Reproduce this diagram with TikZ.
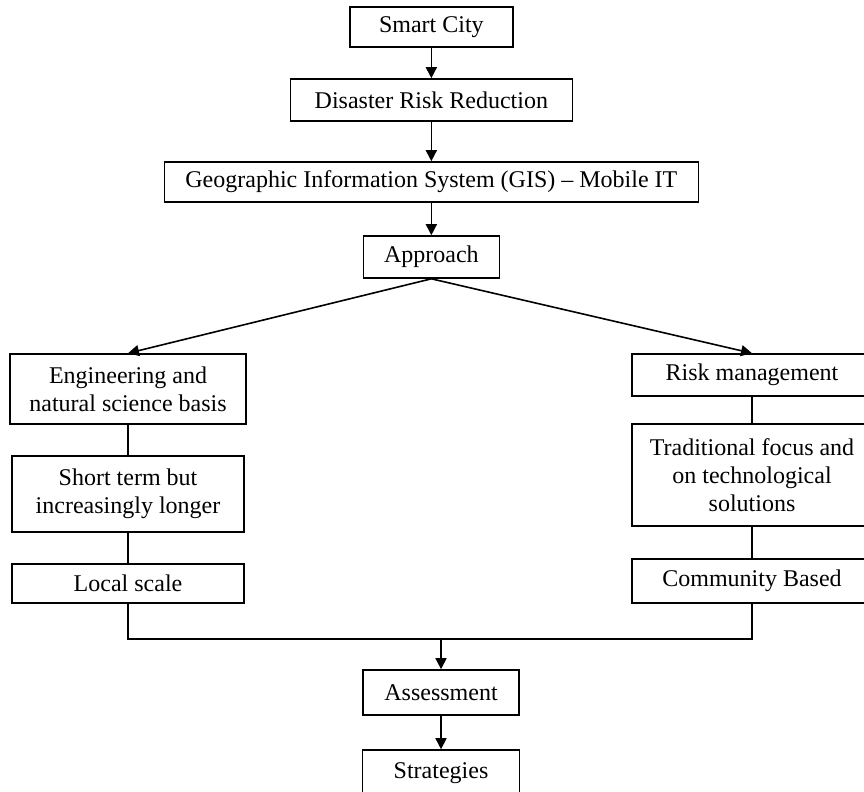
\documentclass[tikz,border=0pt]{standalone}
\usepackage{fontspec}
\setmainfont{Liberation Serif}
\usetikzlibrary{arrows.meta, positioning, calc}

\begin{document}
\begin{tikzpicture}[
    box/.style={draw, line width=0.8pt, align=center, font=\fontsize{12}{14}\selectfont, inner sep=2pt},
    arr/.style={-{Triangle[length=5.5pt, width=5.5pt]}, line width=0.8pt},
    link/.style={line width=0.8pt},
]
\useasboundingbox (0,0) rectangle (15.183,-13.900);
\clip (0,0) rectangle (15.183,-13.900);

% Top chain
\node[box, minimum width=2.864cm, minimum height=0.703cm] (city) at (7.58,-0.474) {Smart City};
\node[box, minimum width=4.956cm, minimum height=0.738cm] (drr) at (7.58,-1.757) {Disaster Risk Reduction};
\node[box, minimum width=9.384cm, minimum height=0.703cm] (gis) at (7.58,-3.198) {Geographic Information System (GIS) -- Mobile IT};
\node[box, minimum width=2.390cm, minimum height=0.738cm] (appr) at (7.58,-4.516) {Approach};

\draw[arr] (city) -- (drr);
\draw[arr] (drr) -- (gis);
\draw[arr] (gis) -- (appr);

% Left branch
\node[box, minimum width=4.147cm, minimum height=1.230cm] (eng) at (2.25,-6.836) {Engineering and\\natural science basis};
\node[box, minimum width=4.077cm, minimum height=1.336cm] (short) at (2.25,-8.681) {Short term but\\increasingly longer};
\node[box, minimum width=4.077cm, minimum height=0.685cm] (local) at (2.25,-10.254) {Local scale};

% Right branch
\node[box, minimum width=4.218cm, minimum height=0.738cm] (risk) at (13.215,-6.590) {Risk management};
\node[box, minimum width=4.218cm, minimum height=1.792cm] (trad) at (13.215,-8.347) {Traditional focus and\\on technological\\solutions};
\node[box, minimum width=4.218cm, minimum height=0.773cm] (comm) at (13.215,-10.210) {Community Based};

\draw[arr] (appr.south) -- (eng.north);
\draw[arr] (appr.south) -- (risk.north);
\draw[link] (eng) -- (short);
\draw[link] (short) -- (local);
\draw[link] (risk) -- (trad);
\draw[link] (trad) -- (comm);

% Bottom chain
\node[box, minimum width=2.741cm, minimum height=0.791cm] (assess) at (7.75,-12.169) {Assessment};
\node[box, minimum width=2.759cm, minimum height=0.808cm] (strat) at (7.75,-13.584) {Strategies};

\coordinate (join) at (7.75,-11.229);
\draw[link] (local.south) -- (local.south |- join) -- (comm.south |- join) -- (comm.south);
\draw[arr] (join) -- (assess.north);
\draw[arr] (assess) -- (strat);

\end{tikzpicture}
\end{document}
